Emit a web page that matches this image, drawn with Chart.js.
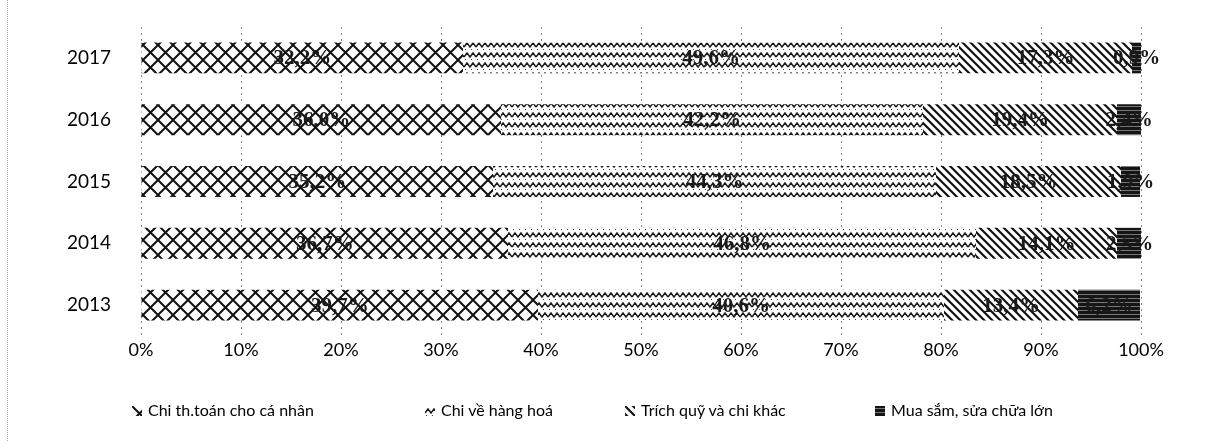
<!DOCTYPE html>
<html>
<head>
<meta charset="utf-8">
<script src="https://cdn.jsdelivr.net/npm/chart.js@4/dist/chart.umd.min.js"></script>
<style>
  html, body { margin: 0; padding: 0; background: #fff; }
  #wrap { position: relative; height: 441px; box-sizing: border-box; border-left: 1px dotted #aaa; margin-left: 7px; width: 1217px; }
  canvas { display: block; }
  #legend { position: absolute; left: 0; top: 398px; height: 24px; width: 1217px; font-family: Lato, sans-serif; font-size: 16px; color: #000; }
  .item { position: absolute; top: 0; white-space: nowrap; line-height: 24px; }
  .item canvas { display: inline-block; vertical-align: middle; margin-right: 6px; position: relative; top: -1px; }
</style>
</head>
<body>
<div id="wrap"><canvas id="c" width="1217" height="441"></canvas><div id="legend"></div></div>
<script>
// ---- Data ----
const years = ['2017', '2016', '2015', '2014', '2013'];
const seriesNames = ['Chi th.toán cho cá nhân', 'Chi về hàng hoá', 'Trích quỹ và chi khác', 'Mua sắm, sửa chữa lớn'];
const chiThanhToan = [32.2, 36.0, 35.2, 36.7, 39.7];
const chiHangHoa   = [49.6, 42.2, 44.3, 46.8, 40.6];
const trichQuy     = [17.3, 19.4, 18.5, 14.1, 13.4];
const muaSam       = [0.9, 2.4, 1.9, 2.5, 6.2];
const xTicks = [0, 10, 20, 30, 40, 50, 60, 70, 80, 90, 100];

// ---- Patterns (style only) ----
function tileCanvas(w, h, draw) {
  const c = document.createElement('canvas');
  c.width = w; c.height = h;
  draw(c.getContext('2d'), w, h);
  return c;
}
const tiles = [
  tileCanvas(15, 15, (g, w, h) => {
    g.fillStyle = '#fff'; g.fillRect(0, 0, w, h);
    g.strokeStyle = '#111'; g.lineWidth = 2;
    g.beginPath();
    g.moveTo(0, 0); g.lineTo(w, h);
    g.moveTo(w, 0); g.lineTo(0, h);
    g.stroke();
  }),
  tileCanvas(12, 10, (g, w, h) => {
    g.fillStyle = '#fff'; g.fillRect(0, 0, w, h);
    g.strokeStyle = '#1a1a1a'; g.lineWidth = 1.5;
    g.beginPath();
    g.moveTo(0, 7); g.lineTo(3, 3); g.lineTo(6, 7); g.lineTo(9, 3); g.lineTo(12, 7);
    g.stroke();
    g.fillStyle = '#444';
    g.fillRect(1, 9, 1, 1); g.fillRect(7, 9, 1, 1);
  }),
  tileCanvas(8, 8, (g, w, h) => {
    g.fillStyle = '#fff'; g.fillRect(0, 0, w, h);
    g.strokeStyle = '#111'; g.lineWidth = 2.2;
    g.beginPath();
    g.moveTo(-2, -2); g.lineTo(w + 2, h + 2);
    g.moveTo(-2, h - 2); g.lineTo(2, h + 2);
    g.moveTo(w - 2, -2); g.lineTo(w + 2, 2);
    g.stroke();
  }),
  tileCanvas(6, 4, (g, w, h) => {
    g.fillStyle = '#151515'; g.fillRect(0, 0, w, h);
    g.fillStyle = '#777'; g.fillRect(0, 2, w, 1);
  })
];
const pctx = document.createElement('canvas').getContext('2d');
const patterns = tiles.map(t => pctx.createPattern(t, 'repeat'));

// ---- Data label plugin ----
const labelPlugin = {
  id: 'segLabels',
  afterDatasetsDraw(chart) {
    const ctx = chart.ctx;
    ctx.save();
    ctx.font = 'bold 21px "Liberation Serif", serif';
    ctx.textAlign = 'center';
    ctx.textBaseline = 'middle';
    ctx.fillStyle = '#1a1a1a';
    chart.data.datasets.forEach((ds, di) => {
      const meta = chart.getDatasetMeta(di);
      meta.data.forEach((el, i) => {
        const v = ds.data[i];
        const x = (el.x + el.base) / 2;
        ctx.fillText(v.toFixed(1).replace('.', ',') + '%', x, el.y + 1);
      });
    });
    ctx.restore();
  }
};

const allSeries = [chiThanhToan, chiHangHoa, trichQuy, muaSam];
const chart = new Chart(document.getElementById('c'), {
  type: 'bar',
  data: {
    labels: years,
    datasets: allSeries.map((d, i) => ({
      label: seriesNames[i],
      data: d,
      backgroundColor: patterns[i],
      borderWidth: 0,
      barPercentage: 0.5,
      categoryPercentage: 1.0
    }))
  },
  options: {
    indexAxis: 'y',
    responsive: false,
    animation: false,
    layout: { padding: { left: 0, right: 84, top: 27, bottom: 47 } },
    scales: {
      x: {
        stacked: true,
        min: 0, max: 100,
        afterBuildTicks(s) { s.ticks = xTicks.map(v => ({ value: v })); },
        grid: { color: '#888', lineWidth: 1, drawTicks: false },
        border: { display: false, dash: [2, 4] },
        ticks: {
          padding: 3,
          color: '#000',
          font: { family: 'Lato', size: 18 },
          callback: v => v + '%'
        },
        afterFit(s) { s.height = 58; }
      },
      y: {
        stacked: true,
        grid: { display: false, drawTicks: false },
        border: { display: false },
        ticks: {
          padding: 30,
          color: '#000',
          font: { family: 'Lato', size: 19 }
        },
        afterFit(s) { s.width = 133; s.paddingTop = 0; s.paddingBottom = 0; }
      }
    },
    plugins: {
      legend: { display: false },
      tooltip: { enabled: false }
    }
  },
  plugins: [labelPlugin]
});

// ---- HTML legend built from the chart's datasets ----
const legendX = [124, 417, 617, 867];
const legendEl = document.getElementById('legend');
chart.data.datasets.forEach((ds, i) => {
  const item = document.createElement('div');
  item.className = 'item';
  item.style.left = legendX[i] + 'px';
  const sw = document.createElement('canvas');
  sw.width = 10; sw.height = 10;
  const g = sw.getContext('2d');
  g.fillStyle = g.createPattern(tiles[i], 'repeat');
  g.fillRect(0, 0, 10, 10);
  item.appendChild(sw);
  item.appendChild(document.createTextNode(ds.label));
  legendEl.appendChild(item);
});
</script>
</body>
</html>
